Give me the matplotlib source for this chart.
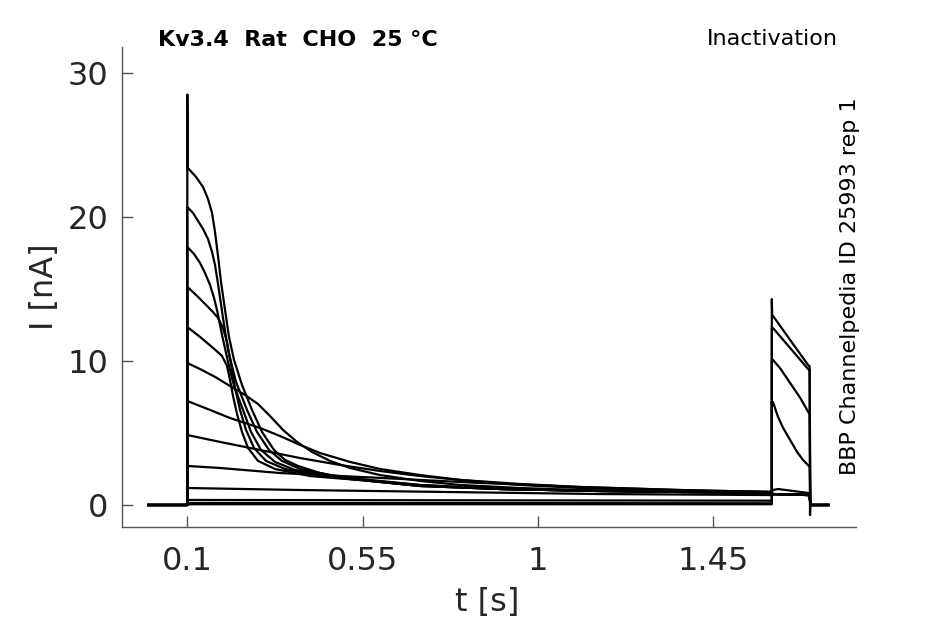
import matplotlib
matplotlib.use("Agg")
import matplotlib.pyplot as plt

# holding level before the prepulse and after the test pulse (nA)
hold_t = [0.0, 0.1]
hold_i = [0.0, 0.0]
tail_t = [1.699, 1.745]
tail_i = [0.0, 0.0]

# prepulse traces, t in s, I in nA
pre1_t = [0.100, 0.1013, 0.1223, 0.1403, 0.1531, 0.1634, 0.1711, 0.1788, 0.1865, 0.1968, 0.2070, 0.2199,
          0.2404, 0.2661, 0.2917, 0.3225, 0.3508, 0.3842, 0.4406, 0.5176, 0.6973, 0.9027, 1.1593, 1.600]
pre1_i = [28.50, 23.40, 22.78, 22.08, 21.25, 20.28, 18.96, 17.29, 15.49, 13.54, 11.67, 10.07,
          8.33, 6.60, 5.07, 3.82, 3.13, 2.71, 2.22, 1.81, 1.39, 1.11, 0.97, 0.83]
pre2_t = [0.100, 0.1146, 0.1275, 0.1403, 0.1531, 0.1634, 0.1711, 0.1788, 0.1916, 0.2045, 0.2250,
          0.2532, 0.2789, 0.3097, 0.3431, 0.3893, 0.4663, 0.5690, 0.6973, 0.9027, 1.1593, 1.600]
pre2_i = [20.69, 20.28, 19.72, 19.17, 18.47, 17.57, 16.67, 15.35, 12.99, 10.76, 8.54,
          6.60, 5.07, 3.82, 3.06, 2.50, 2.08, 1.74, 1.39, 1.11, 0.97, 0.83]
pre3_t = [0.100, 0.1172, 0.1326, 0.1454, 0.1583, 0.1685, 0.1762, 0.1891, 0.2045, 0.2199, 0.2430,
          0.2635, 0.2892, 0.3251, 0.3764, 0.4663, 0.5690, 0.6973, 0.9027, 1.1593, 1.600]
pre3_i = [17.92, 17.43, 16.81, 16.11, 15.28, 14.38, 13.54, 11.81, 9.93, 8.26, 6.60,
          5.07, 3.82, 2.99, 2.43, 2.01, 1.67, 1.32, 1.11, 0.97, 0.83]
pre4_t = [0.100, 0.1172, 0.1326, 0.1480, 0.1634, 0.1788, 0.1916, 0.2019, 0.2122, 0.2224, 0.2353,
          0.2507, 0.2712, 0.3020, 0.3508, 0.4406, 0.5690, 0.6973, 0.9027, 1.1593, 1.600]
pre4_i = [15.14, 14.72, 14.31, 13.89, 13.47, 12.99, 12.29, 11.32, 9.79, 8.13, 6.60,
          5.21, 3.96, 3.06, 2.50, 2.01, 1.67, 1.32, 1.11, 0.97, 0.90]
pre5_t = [0.100, 0.1326, 0.1634, 0.1891, 0.2019, 0.2096, 0.2173, 0.2276, 0.2404, 0.2558, 0.2815,
          0.3251, 0.4149, 0.5690, 0.6973, 0.9027, 1.1593, 1.600]
pre5_i = [12.36, 11.67, 10.97, 10.35, 9.65, 8.68, 7.57, 6.32, 5.07, 3.96, 3.06,
          2.50, 2.01, 1.67, 1.32, 1.11, 0.97, 0.90]
pre6_t = [0.100, 0.1326, 0.1716, 0.2096, 0.2481, 0.2815, 0.3123, 0.3456, 0.3816, 0.4201, 0.4663,
          0.5176, 0.5946, 0.6973, 0.8000, 0.9540, 1.1080, 1.3646, 1.600]
pre6_i = [9.86, 9.44, 8.89, 8.26, 7.64, 7.01, 6.18, 5.21, 4.38, 3.68, 3.06,
          2.57, 2.08, 1.67, 1.39, 1.18, 1.04, 0.90, 0.83]
pre7_t = [0.100, 0.1583, 0.2096, 0.2866, 0.3379, 0.3893, 0.4406, 0.5176, 0.5946, 0.6973, 0.8000,
          0.9540, 1.1080, 1.3646, 1.600]
pre7_i = [7.22, 6.60, 6.04, 5.35, 4.79, 4.17, 3.61, 2.99, 2.50, 2.08, 1.74,
          1.39, 1.18, 0.97, 0.90]
pre8_t = [0.100, 0.1839, 0.2866, 0.3893, 0.4919, 0.5946, 0.6973, 0.8000, 0.9540, 1.1080, 1.3646, 1.600]
pre8_i = [4.86, 4.38, 3.82, 3.26, 2.78, 2.36, 2.01, 1.74, 1.46, 1.25, 1.04, 0.90]
pre9_t = [0.100, 0.1839, 0.3379, 0.5946, 0.8513, 1.1080, 1.3646, 1.600]
pre9_i = [2.71, 2.57, 2.22, 1.88, 1.53, 1.25, 1.04, 0.90]
pre10_t = [0.100, 0.3893, 0.7743, 1.1593, 1.600]
pre10_i = [1.18, 1.04, 0.90, 0.76, 0.69]
pre11_t = [0.100, 1.600]
pre11_i = [0.35, 0.30]
pre12_t = [0.100, 1.600]
pre12_i = [0.14, 0.12]
pre13_t = [0.100, 1.600]
pre13_i = [0.05, 0.05]

# test pulse traces
test_small_t = [1.600, 1.603, 1.697]
test_small_i = [0.80, 0.76, 0.69]
test9_t = [1.600, 1.603, 1.616, 1.695, 1.697]
test9_i = [0.90, 1.04, 1.11, 0.83, 0.83]
test10_t = [1.600, 1.603, 1.616, 1.629, 1.647, 1.665, 1.680, 1.695, 1.697]
test10_i = [7.15, 7.15, 6.11, 5.35, 4.51, 3.68, 3.13, 2.71, 2.71]
test11_t = [1.600, 1.603, 1.621, 1.647, 1.673, 1.695, 1.697]
test11_i = [10.07, 10.07, 9.51, 8.47, 7.43, 6.39, 6.39]
test12_t = [1.600, 1.603, 1.647, 1.695, 1.697]
test12_i = [12.29, 12.29, 10.90, 9.38, 9.38]
test13_t = [1.600, 1.601, 1.603, 1.647, 1.695, 1.697, 1.698]
test13_i = [14.30, 13.13, 13.13, 11.46, 9.65, 9.65, -0.70]

traces = [
    (pre1_t, pre1_i, test_small_t, test_small_i),
    (pre2_t, pre2_i, test_small_t, test_small_i),
    (pre3_t, pre3_i, test_small_t, test_small_i),
    (pre4_t, pre4_i, test_small_t, test_small_i),
    (pre5_t, pre5_i, test_small_t, test_small_i),
    (pre6_t, pre6_i, test_small_t, test_small_i),
    (pre7_t, pre7_i, test_small_t, test_small_i),
    (pre8_t, pre8_i, test_small_t, test_small_i),
    (pre9_t, pre9_i, test9_t, test9_i),
    (pre10_t, pre10_i, test10_t, test10_i),
    (pre11_t, pre11_i, test11_t, test11_i),
    (pre12_t, pre12_i, test12_t, test12_i),
    (pre13_t, pre13_i, test13_t, test13_i),
]

xticks = [0.1, 0.55, 1, 1.45]
xticklabels = ["0.1", "0.55", "1", "1.45"]
yticks = [0, 10, 20, 30]

fig = plt.figure(figsize=(9.45, 6.24), dpi=100)
ax = fig.add_axes([0.1291, 0.1554, 0.7767, 0.7693])

for pt, pi, tt, ti in traces:
    t = hold_t + pt + tt + tail_t
    i = hold_i + pi + ti + tail_i
    ax.plot(t, i, color="black", lw=1.6, solid_joinstyle="round")

ax.set_xlim(-0.0676, 1.816)
ax.set_ylim(-1.53, 31.8)
ax.set_xticks(xticks)
ax.set_xticklabels(xticklabels)
ax.set_yticks(yticks)

grey = "#262626"
for s in ["top", "right"]:
    ax.spines[s].set_visible(False)
for s in ["left", "bottom"]:
    ax.spines[s].set_color("#555555")
    ax.spines[s].set_linewidth(1.0)
ax.tick_params(direction="in", length=8, width=1, color="#555555",
               labelsize=23, labelcolor=grey)
ax.tick_params(axis="x", pad=14)
ax.tick_params(axis="y", pad=10)

fig.text(487 / 945, 1 - 603 / 624, "t [s]", fontsize=23, color=grey,
         ha="center", va="center")
fig.text(45 / 945, 1 - 287 / 624, "I [nA]", fontsize=23, color=grey,
         ha="center", va="center", rotation=90)

fig.text(158 / 945, 1 - 40 / 624, "Kv3.4  Rat  CHO  25 °C", fontsize=16,
         fontweight="bold", ha="left", va="center")
fig.text(838 / 945, 1 - 39 / 624, "Inactivation", fontsize=16,
         ha="right", va="center")
fig.text(850 / 945, 1 - 286 / 624, "BBP Channelpedia ID 25993 rep 1",
         fontsize=16, ha="center", va="center", rotation=90)

fig.savefig("out.png", dpi=100)
